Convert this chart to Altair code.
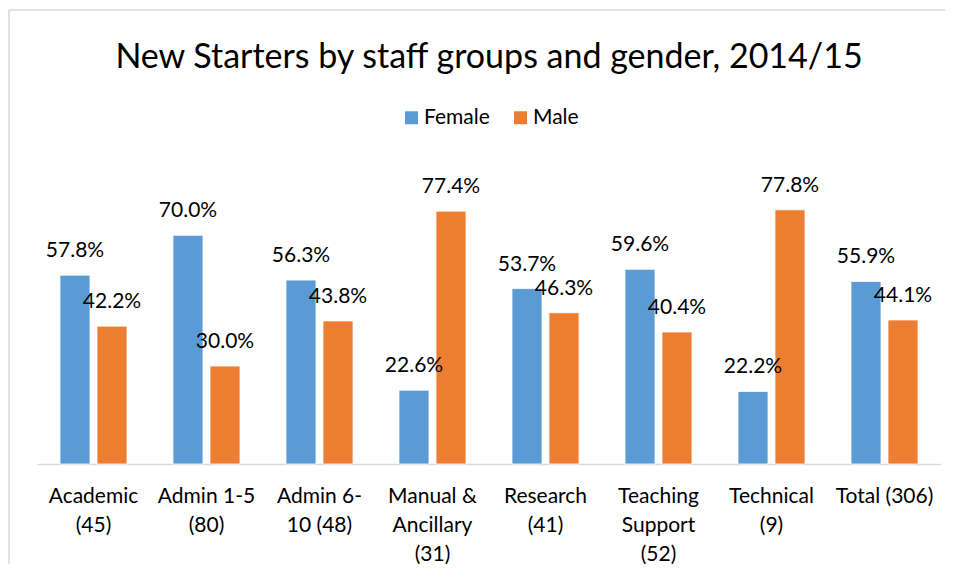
import altair as alt
import pandas as pd

categories = [
    "Academic|(45)",
    "Admin 1-5|(80)",
    "Admin 6-|10 (48)",
    "Manual &|Ancillary|(31)",
    "Research|(41)",
    "Teaching|Support|(52)",
    "Technical|(9)",
    "Total (306)",
]
female = [57.8, 70.0, 56.3, 22.6, 53.7, 59.6, 22.2, 55.9]
male = [42.2, 30.0, 43.8, 77.4, 46.3, 40.4, 77.8, 44.1]
genders = ["Female", "Male"]
colors = ["#5B9BD5", "#ED7D31"]

rows = []
for c, f, m in zip(categories, female, male):
    rows.append({"group": c, "gender": "Female", "pct": f})
    rows.append({"group": c, "gender": "Male", "pct": m})
df = pd.DataFrame(rows)

FONT = "Lato"

x = alt.X(
    "group:N",
    sort=categories,
    title=None,
    scale=alt.Scale(paddingInner=0.407, paddingOuter=0.2035),
    axis=alt.Axis(
        labelExpr="split(datum.label, '|')",
        labelAngle=0,
        labelFont=FONT,
        labelFontSize=21,
        labelColor="black",
        labelLineHeight=29,
        labelPadding=21,
        labelLimit=400,
        labelBaseline="top",
        ticks=False,
        grid=False,
        domainColor="#d9d9d9",
        domainWidth=1.5,
    ),
)
xo = alt.XOffset("gender:N", sort=genders, scale=alt.Scale(paddingInner=0.189, paddingOuter=0))
y = alt.Y("pct:Q", scale=alt.Scale(domain=[0, 90], nice=False), axis=None)

base = alt.Chart(df).encode(x=x, xOffset=xo)

bars = base.mark_bar(stroke="white", strokeWidth=0.8).encode(
    y=y,
    color=alt.Color(
        "gender:N",
        scale=alt.Scale(domain=genders, range=colors),
        legend=alt.Legend(
            title=None,
            orient="none",
            legendX=364,
            legendY=-63,
            direction="horizontal",
            symbolType="square",
            symbolSize=169,
            symbolStrokeWidth=0,
            labelFont=FONT,
            labelFontSize=21,
            labelColor="black",
            labelOffset=2,
            columnPadding=20,
        ),
    ),
)

labels = base.transform_calculate(
    label="format(datum.pct, '.1f') + '%'"
).mark_text(
    dy=-18, baseline="alphabetic", fontSize=21, font=FONT, color="black"
).encode(y=y, text="label:N")

frame_data = alt.Data(values=[{"k": 1}])
vline = alt.Chart(frame_data).mark_rule(color="#d9d9d9", strokeWidth=1.5).encode(
    x=alt.value(-28), y=alt.value(-160), y2=alt.value(420)
)
hline = alt.Chart(frame_data).mark_rule(color="#d9d9d9", strokeWidth=1.5).encode(
    x=alt.value(-28), x2=alt.value(940), y=alt.value(-160)
)

chart = alt.layer(bars, labels, vline, hline).properties(
    width=904,
    height=294,
    autosize=alt.AutoSizeParams(type="none"),
    padding={"left": 29, "top": 162, "right": 4, "bottom": 100},
    title=alt.Title(
        "New Starters by staff groups and gender, 2014/15",
        font=FONT,
        fontSize=34,
        fontWeight="normal",
        color="black",
        anchor="middle",
        offset=-66,
    ),
).configure_view(stroke=None)

chart.save("out.html", embed_options={"renderer": "svg", "actions": False})
